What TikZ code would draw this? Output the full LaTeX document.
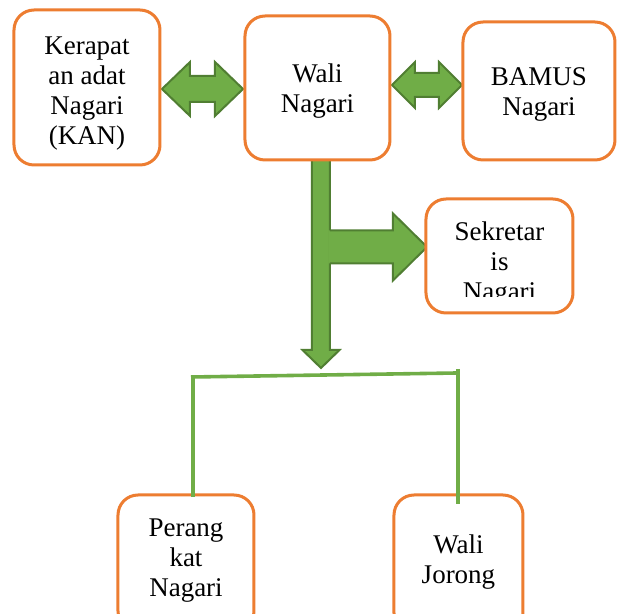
\documentclass[tikz,border=0pt]{standalone}
\usepackage{fontspec}
\setmainfont{Liberation Serif}
\usetikzlibrary{calc}

\definecolor{boxorange}{HTML}{ED7D31}
\definecolor{arrgreen}{HTML}{70AD47}
\definecolor{arrdark}{HTML}{507E32}

\pgfdeclarelayer{background}
\pgfsetlayers{background,main}

\begin{document}
\begin{tikzpicture}[x=0.5pt,y=-0.5pt,
  unit/.style={rectangle, rounded corners=10pt, draw=boxorange, line width=1.5pt, fill=white, inner sep=0pt, outer sep=0pt},
  txt/.style={align=center, font=\fontsize{13.5}{15}\selectfont, inner sep=0pt},
  blk/.style={fill=arrgreen, draw=arrdark, line width=1pt, line join=miter},
  ln/.style={draw=arrgreen, line width=1.8pt}]
  \useasboundingbox (0,0) rectangle (618,614);
  \clip (0,0) rectangle (618,614);

  % boxes
  \node[unit, minimum width=73pt, minimum height=77.5pt] (kan) at (87,87.5) {};
  \node[unit, minimum width=72.5pt, minimum height=72pt] (wali) at (317.5,88) {};
  \node[unit, minimum width=76pt, minimum height=69pt] (bamus) at (539,91) {};
  \node[unit, minimum width=73.5pt, minimum height=57pt] (sek) at (499.5,256) {};
  \node[unit, minimum width=68pt, minimum height=68pt] (perang) at (186,563) {};
  \node[unit, minimum width=64.5pt, minimum height=69pt] (jorong) at (458.5,564) {};

  % texts
  \node[txt] (kant) at ($(kan.center)+(0,6)$) {Kerapat\\an adat\\Nagari\\(KAN)};
  \node[txt] (walit) at ($(wali.center)+(0,3)$) {Wali\\Nagari};
  \node[txt] (bamust) at ($(bamus.center)+(0,3)$) {BAMUS\\Nagari};
  \begin{scope}
    \clip (426,199) rectangle (573,297);
    \node[txt] (sekt) at ($(sek.center)+(0,8)$) {Sekretar\\is\\Nagari};
  \end{scope}
  \node[txt] (perangt) at ($(perang.center)+(0,-2)$) {Perang\\kat\\Nagari};
  \node[txt] (jorongt) at ($(jorong.center)+(0,-2)$) {Wali\\Jorong};

  \begin{pgfonlayer}{background}
    % double arrows
    \coordinate (a1) at ($(kan.east)+(2,1.5)$);
    \coordinate (a2) at ($(wali.west)+(-2,1)$);
    \draw[blk] (a1) -- ($(a1)+(28,-27)$) -- ($(a1)+(28,-13)$) -- ($(a2)+(-28,-13)$)
      -- ($(a2)+(-28,-27)$) -- (a2) -- ($(a2)+(-28,27)$) -- ($(a2)+(-28,13)$)
      -- ($(a1)+(28,13)$) -- ($(a1)+(28,27)$) -- cycle;
    \coordinate (b1) at ($(wali.east)+(2,-3)$);
    \coordinate (b2) at ($(bamus.west)+(-1,-6)$);
    \draw[blk] (b1) -- ($(b1)+(23,-23)$) -- ($(b1)+(23,-12)$) -- ($(b2)+(-23,-12)$)
      -- ($(b2)+(-23,-23)$) -- (b2) -- ($(b2)+(-23,23)$) -- ($(b2)+(-23,12)$)
      -- ($(b1)+(23,12)$) -- ($(b1)+(23,23)$) -- cycle;

    % down arrow
    \coordinate (c1) at ($(wali.south)+(3.5,0)$);
    \coordinate (tip) at ($(c1)+(0,208)$);
    \draw[blk] ($(c1)+(-9,0)$) -- ($(tip)+(-9,-18)$) -- ($(tip)+(-18.5,-18)$) -- (tip)
      -- ($(tip)+(18.5,-18)$) -- ($(tip)+(9,-18)$) -- ($(c1)+(9,0)$) -- cycle;

    % arrow to Sekretaris
    \coordinate (d2) at ($(sek.west)+(1,-9)$);
    \coordinate (d1) at ($(c1 |- d2)+(9,0)$);
    \fill[arrgreen] ($(d1)+(-1.5,-16.5)$) -- ($(d2)+(-34,-16.5)$) -- ($(d2)+(-34,-33.5)$) -- (d2)
      -- ($(d2)+(-34,33.5)$) -- ($(d2)+(-34,16.5)$) -- ($(d1)+(-1.5,16.5)$) -- cycle;
    \draw[arrdark, line width=1pt] ($(d1)+(0,-16.5)$) -- ($(d2)+(-34,-16.5)$) -- ($(d2)+(-34,-33.5)$) -- (d2)
      -- ($(d2)+(-34,33.5)$) -- ($(d2)+(-34,16.5)$) -- ($(d1)+(0,16.5)$);
  \end{pgfonlayer}

  % branch lines
  \coordinate (jl) at (191,377);
  \coordinate (jr) at (457,373);
  \draw[ln] (jl) -- (jr);
  \draw[ln] ($(jl)+(2,0)$) -- ($(perang.north)+(7,2)$);
  \draw[ln] ($(jr)+(1,-4)$) -- ($(jorong.north)+(-0.5,9)$);
\end{tikzpicture}
\end{document}
